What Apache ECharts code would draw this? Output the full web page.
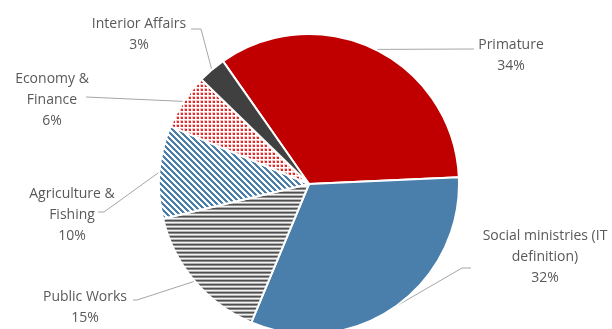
<!DOCTYPE html>
<html>
<head>
<meta charset="utf-8">
<script src="https://cdn.jsdelivr.net/npm/echarts@6/dist/echarts.min.js"></script>
<style>
  html, body { margin: 0; padding: 0; background: #ffffff; }
  #chart { width: 612px; height: 329px; }
</style>
</head>
<body>
<div id="chart"></div>
<script>
// Budget shares by ministry (percent)
const categories = [
  'Primature',
  'Social ministries (IT\ndefinition)',
  'Public Works',
  'Agriculture &\nFishing',
  'Economy &\nFinance',
  'Interior Affairs'
];
const shares = [34, 32, 15, 10, 6, 3];

// Where each label block sits, plus the bend/end points of its leader line
const labelSpots = [
  { x: 511, y: 55.5, line: [[474, 49], [474, 49]] },
  { x: 545, y: 257,  line: [[462, 268], [471, 268]] },
  { x: 85,  y: 307.5, line: [[137, 300], [133, 300]] },
  { x: 72,  y: 215.5, line: [[104, 212], [98, 212]] },
  { x: 52,  y: 100.5, line: [[86, 97], [86, 97]] },
  { x: 139, y: 35,   line: [[201, 29], [191, 29]] }
];

// Small canvas tiles used as fill patterns
function tile(w, h, draw) {
  const c = document.createElement('canvas');
  c.width = w; c.height = h;
  const g = c.getContext('2d');
  g.fillStyle = '#ffffff';
  g.fillRect(0, 0, w, h);
  draw(g);
  return c;
}

const greyStripes = tile(4, 4, g => {
  const rows = ['#4f4f4f', '#8c8c8c', '#f4f4f4', '#b4b4b4'];
  rows.forEach((col, i) => { g.fillStyle = col; g.fillRect(0, i, 4, 1); });
});

const blueDiagonal = tile(6, 6, g => {
  g.fillStyle = '#4a7eab';
  for (let y = 0; y < 6; y++) {
    for (let x = 0; x < 6; x++) {
      if (((x - y) % 6 + 6) % 6 < 3) g.fillRect(x, y, 1, 1);
    }
  }
});

const redDots = tile(4, 4, g => {
  g.fillStyle = '#f6c4c4';
  g.fillRect(0, 0, 3, 3);
  g.fillStyle = '#e02a2a';
  g.fillRect(1, 1, 2, 2);
});

const fills = [
  '#c00000',
  '#4a7eab',
  { image: greyStripes, repeat: 'repeat' },
  { image: blueDiagonal, repeat: 'repeat' },
  { image: redDots, repeat: 'repeat' },
  '#404040'
];

const chart = echarts.init(document.getElementById('chart'), null, { renderer: 'canvas' });

chart.setOption({
  animation: false,
  series: [{
    type: 'pie',
    center: [309, 184],
    radius: 150,
    startAngle: 125,
    clockwise: true,
    avoidLabelOverlap: false,
    data: categories.map((name, i) => ({
      name: name,
      value: shares[i],
      itemStyle: { color: fills[i] }
    })),
    itemStyle: { borderColor: '#ffffff', borderWidth: 2 },
    emphasis: { disabled: true },
    label: {
      show: true,
      position: 'outside',
      formatter: p => p.name + '\n' + p.value + '%',
      color: '#595959',
      fontFamily: 'Open Sans',
      fontSize: 14,
      lineHeight: 21,
      align: 'center'
    },
    labelLine: {
      show: true,
      smooth: false,
      lineStyle: { color: '#a6a6a6', width: 1 }
    },
    labelLayout: function (params) {
      const spot = labelSpots[params.dataIndex];
      const start = params.labelLinePoints ? params.labelLinePoints[0] : spot.line[0];
      return {
        x: spot.x,
        y: spot.y,
        align: 'center',
        verticalAlign: 'middle',
        labelLinePoints: [start, spot.line[0], spot.line[1]]
      };
    }
  }]
});
</script>
</body>
</html>
